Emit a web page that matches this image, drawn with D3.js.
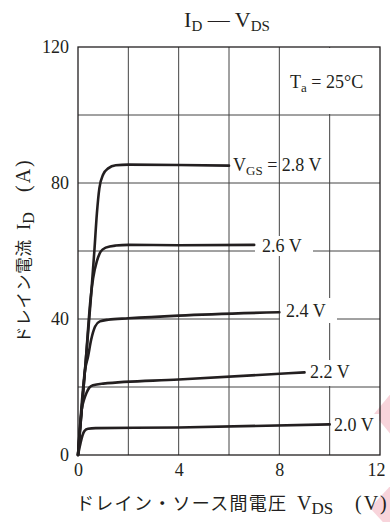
<!DOCTYPE html>
<html lang="ja">
<head>
<meta charset="UTF-8">
<title>ID - VDS</title>
<script src="https://d3js.org/d3.v7.min.js"></script>
<style>
  body { margin: 0; background: #fff; }
  svg { display: block; }
  .serif { font-family: "Liberation Serif", "DejaVu Serif", serif; fill: #231f20; }
  .jp { font-family: "Noto Sans CJK JP", sans-serif; fill: #231f20; }
</style>
</head>
<body>
<div id="chart"></div>
<script>
// curves: [VDS (V), ID (A)]
const vgsLabels = ["2.8", "2.6", "2.4", "2.2", "2.0"];
const curve28 = [[0,0],[0.3,27],[0.5,45],[0.65,60],[0.75,71],[0.85,78.5],[1.0,82.5],[1.2,84.3],[1.5,85.2],[2,85.4],[4,85.3],[6,85.1]];
const curve26 = [[0,0],[0.3,27],[0.5,46],[0.6,52],[0.75,57],[0.9,59.8],[1.1,61],[1.5,61.6],[2,61.8],[4,61.7],[7,61.8]];
const curve24 = [[0,0],[0.28,25],[0.4,29],[0.52,33.8],[0.68,37.8],[0.87,39.3],[1.2,39.8],[2,40.2],[4,41.0],[8,42.0]];
const curve22 = [[0,0],[0.15,13.5],[0.25,16.5],[0.34,18.3],[0.45,19.8],[0.6,20.5],[1,21.0],[4,22.2],[9,24.3]];
const curve20 = [[0,0],[0.1,3.5],[0.18,5.8],[0.26,7.1],[0.4,7.7],[0.7,7.9],[4,8.1],[10,9.0]];
const curves = [curve28, curve26, curve24, curve22, curve20];
const xTicks = [0, 4, 8, 12];
const yTicks = [0, 40, 80, 120];
const xGrid = [2, 4, 6, 8, 10];
const yGrid = [20, 40, 60, 80, 100];

const W = 390, H = 522;
const svg = d3.select("#chart").append("svg").attr("width", W).attr("height", H);

const x = d3.scaleLinear().domain([0, 12]).range([78, 380]);
const y = d3.scaleLinear().domain([0, 120]).range([455, 47]);

// watermark traces at right edge
svg.append("path").attr("d", "M392,392 L374,414 L392,436 Z").attr("fill", "#f6c9d2").attr("opacity", 0.8);
svg.append("path").attr("d", "M392,484 L370,508 L392,532 Z").attr("fill", "#f6c9d2").attr("opacity", 0.8);

// grid
svg.selectAll(".gx").data(xGrid).enter().append("line")
  .attr("x1", d => x(d)).attr("x2", d => x(d))
  .attr("y1", y(0)).attr("y2", y(120))
  .attr("stroke", "#444").attr("stroke-width", 1);
svg.selectAll(".gy").data(yGrid).enter().append("line")
  .attr("x1", x(0)).attr("x2", x(12))
  .attr("y1", d => y(d)).attr("y2", d => y(d))
  .attr("stroke", "#444").attr("stroke-width", 1);

// white boxes behind the labels (they break the grid)
const boxes = [
  [285, 48, 93, 66],   // Ta
  [255, 236, 58, 20],  // 2.6 V
  [280, 298, 57, 25],  // 2.4 V
  [306, 360, 46, 26],  // 2.2 V
  [332, 414, 47, 22]   // 2.0 V
];
svg.selectAll(".box").data(boxes).enter().append("rect")
  .attr("x", d => d[0]).attr("y", d => d[1])
  .attr("width", d => d[2]).attr("height", d => d[3])
  .attr("fill", "#fff");

// frame
svg.append("rect")
  .attr("x", x(0)).attr("y", y(120))
  .attr("width", x(12) - x(0)).attr("height", y(0) - y(120))
  .attr("fill", "none").attr("stroke", "#231f20").attr("stroke-width", 1.3);

// axes (labels only)
const xAxis = svg.append("g").attr("transform", `translate(0,${y(0)})`)
  .call(d3.axisBottom(x).tickValues(xTicks).tickSize(0).tickPadding(8));
const yAxis = svg.append("g").attr("transform", `translate(${x(0)},0)`)
  .call(d3.axisLeft(y).tickValues(yTicks).tickSize(0).tickPadding(9));
[xAxis, yAxis].forEach(g => {
  g.select(".domain").remove();
  g.selectAll("text").attr("class", "serif").attr("font-size", 18).attr("fill", "#231f20");
});
xAxis.selectAll("text").filter(d => d === 12).attr("dx", -4);

// curves
const line = d3.line().x(d => x(d[0])).y(d => y(d[1])).curve(d3.curveMonotoneX);
svg.selectAll(".curve").data(curves).enter().append("path")
  .attr("d", line)
  .attr("fill", "none").attr("stroke", "#231f20")
  .attr("stroke-width", 2.6).attr("stroke-linejoin", "round").attr("stroke-linecap", "round");

// curve labels
function sub(t, main, s, rest) {
  t.append("tspan").text(main);
  t.append("tspan").attr("font-size", 13).attr("dy", 4).text(s);
  t.append("tspan").attr("dy", -4).text(rest);
}
const lab28 = svg.append("text").attr("class", "serif").attr("font-size", 18)
  .attr("x", 233).attr("y", 171);
sub(lab28, "V", "GS", " = " + vgsLabels[0] + " V");
const labPos = [[262, 252], [286, 317], [310, 378], [334, 431]];
svg.selectAll(".vl").data(labPos).enter().append("text")
  .attr("class", "serif").attr("font-size", 18)
  .attr("x", d => d[0]).attr("y", d => d[1])
  .text((d, i) => vgsLabels[i + 1] + " V");

// Ta
const ta = svg.append("text").attr("class", "serif").attr("font-size", 18).attr("x", 290).attr("y", 88);
sub(ta, "T", "a", " = 25°C");

// title
const title = svg.append("text").attr("class", "serif").attr("font-size", 22)
  .attr("x", 227).attr("y", 27).attr("text-anchor", "middle");
title.append("tspan").text("I");
title.append("tspan").attr("font-size", 15).attr("dy", 4).text("D");
title.append("tspan").attr("dy", -4).text(" — V");
title.append("tspan").attr("font-size", 15).attr("dy", 4).text("DS");

// x label
const xl = svg.append("text").attr("x", 76).attr("y", 510);
xl.append("tspan").attr("class", "jp").attr("font-size", 18).attr("letter-spacing", 1.3).text("ドレイン・ソース間電圧");
xl.append("tspan").attr("class", "serif").attr("font-size", 20).attr("x", 297).text("V");
xl.append("tspan").attr("class", "serif").attr("font-size", 17).attr("dy", 4).text("DS");
xl.append("tspan").attr("class", "serif").attr("font-size", 20).attr("dy", -4).attr("x", 355)
  .attr("letter-spacing", 2).text("(V)");

// y label
const yl = svg.append("text").attr("transform", "translate(30,343) rotate(-90)");
yl.append("tspan").attr("class", "jp").attr("font-size", 16.5).attr("letter-spacing", 0.8).text("ドレイン電流");
yl.append("tspan").attr("class", "serif").attr("font-size", 19).attr("x", 113).text("I");
yl.append("tspan").attr("class", "serif").attr("font-size", 16).attr("dy", 4).text("D");
yl.append("tspan").attr("class", "serif").attr("font-size", 20).attr("dy", -4).attr("x", 151)
  .attr("letter-spacing", 2).text("(A)");
</script>
</body>
</html>
